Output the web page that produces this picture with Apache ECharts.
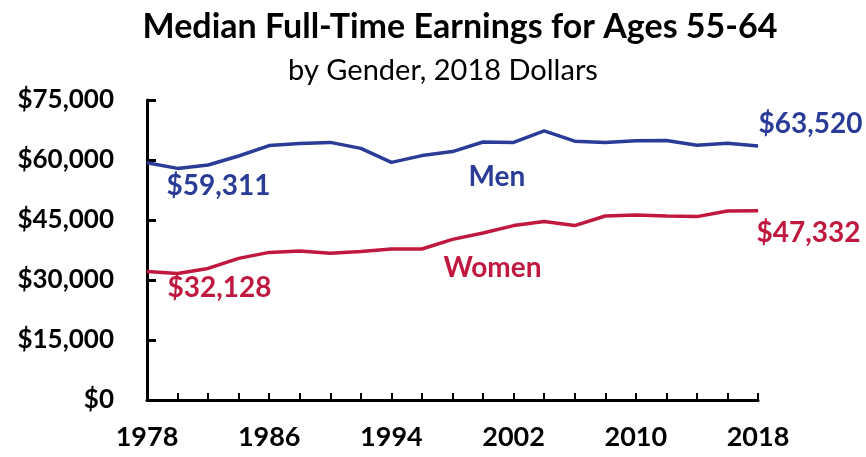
<!DOCTYPE html>
<html>
<head>
<meta charset="utf-8">
<script src="https://cdn.jsdelivr.net/npm/echarts@6/dist/echarts.min.js"></script>
<style>
  html, body { margin: 0; padding: 0; background: #fff; }
  #chart { width: 866px; height: 457px; }
</style>
</head>
<body>
<div id="chart"></div>
<script>
var years = [];
for (var y = 1978; y <= 2018; y += 2) years.push(String(y));

var menValues = [59311, 57900, 58750, 61000, 63600, 64150, 64400, 62900, 59400, 61100, 62100,
                 64500, 64400, 67300, 64700, 64400, 64800, 64900, 63700, 64200, 63520];
var womenValues = [32128, 31650, 32900, 35400, 36900, 37250, 36700, 37100, 37750, 37750, 40150,
                   41750, 43600, 44600, 43600, 46000, 46250, 46000, 45850, 47250, 47332];

var yTicks = [0, 15000, 30000, 45000, 60000, 75000];

var BLUE = '#2a3c98';
var RED = '#c0183f';
var FONT = 'Lato';

function money(v) {
    return '$' + v.toLocaleString('en-US');
}

// label one point of a series: [index, text, [dx, dy]]
function labelled(values, tags, color) {
    var data = values.slice();
    tags.forEach(function (t) {
        data[t[0]] = {
            value: values[t[0]],
            label: {
                show: true, formatter: t[1], position: t[2],
                align: 'left', verticalAlign: 'middle',
                color: color, fontFamily: FONT, fontWeight: 'bold', fontSize: 28
            }
        };
    });
    return data;
}

var menData = labelled(menValues, [
    [0, money(menValues[0]), [20, 24]],
    [11, 'Men', [-14, 35]],
    [20, money(menValues[20]), [1, -21]]
], BLUE);

var womenData = labelled(womenValues, [
    [0, money(womenValues[0]), [21, 17]],
    [11, 'Women', [-39, 35]],
    [20, money(womenValues[20]), [-1, 23]]
], RED);

var chart = echarts.init(document.getElementById('chart'));
var option = {
    backgroundColor: '#fff',
    animation: false,
    title: [
        {
            text: 'Median Full-Time Earnings for Ages 55-64',
            left: 455, top: 5, textAlign: 'center',
            textStyle: { fontFamily: FONT, fontWeight: 'bold', fontSize: 34, color: '#000' }
        },
        {
            text: 'by Gender, 2018 Dollars',
            left: 438, top: 51, textAlign: 'center',
            textStyle: { fontFamily: FONT, fontWeight: 'normal', fontSize: 29, color: '#000' }
        }
    ],
    grid: { left: 147, right: 108, top: 100, bottom: 57, containLabel: false },
    xAxis: {
        type: 'category',
        data: years,
        boundaryGap: false,
        axisLine: { lineStyle: { color: '#000', width: 3 } },
        axisTick: { inside: true, length: 7, interval: 0, lineStyle: { color: '#000', width: 2 } },
        axisLabel: {
            interval: 3, margin: 24, color: '#000',
            fontFamily: FONT, fontWeight: 'bold', fontSize: 27
        },
        splitLine: { show: false }
    },
    yAxis: {
        type: 'value',
        min: yTicks[0], max: yTicks[yTicks.length - 1], interval: 15000,
        axisLine: { show: true, lineStyle: { color: '#000', width: 3 } },
        axisTick: { show: true, inside: true, length: 9, lineStyle: { color: '#000', width: 3 } },
        axisLabel: {
            margin: 33, color: '#000',
            fontFamily: FONT, fontWeight: 'bold', fontSize: 26,
            formatter: function (v) { return money(v); }
        },
        splitLine: { show: false }
    },
    series: [
        {
            name: 'Men', type: 'line', data: menData,
            symbol: 'circle', symbolSize: 1, showSymbol: true, showAllSymbol: true,
            lineStyle: { color: BLUE, width: 3.5 }, itemStyle: { color: BLUE }
        },
        {
            name: 'Women', type: 'line', data: womenData,
            symbol: 'circle', symbolSize: 1, showSymbol: true, showAllSymbol: true,
            lineStyle: { color: RED, width: 3.5 }, itemStyle: { color: RED }
        }
    ]
};
chart.setOption(option);
window.onresize = chart.resize;
</script>
</body>
</html>
